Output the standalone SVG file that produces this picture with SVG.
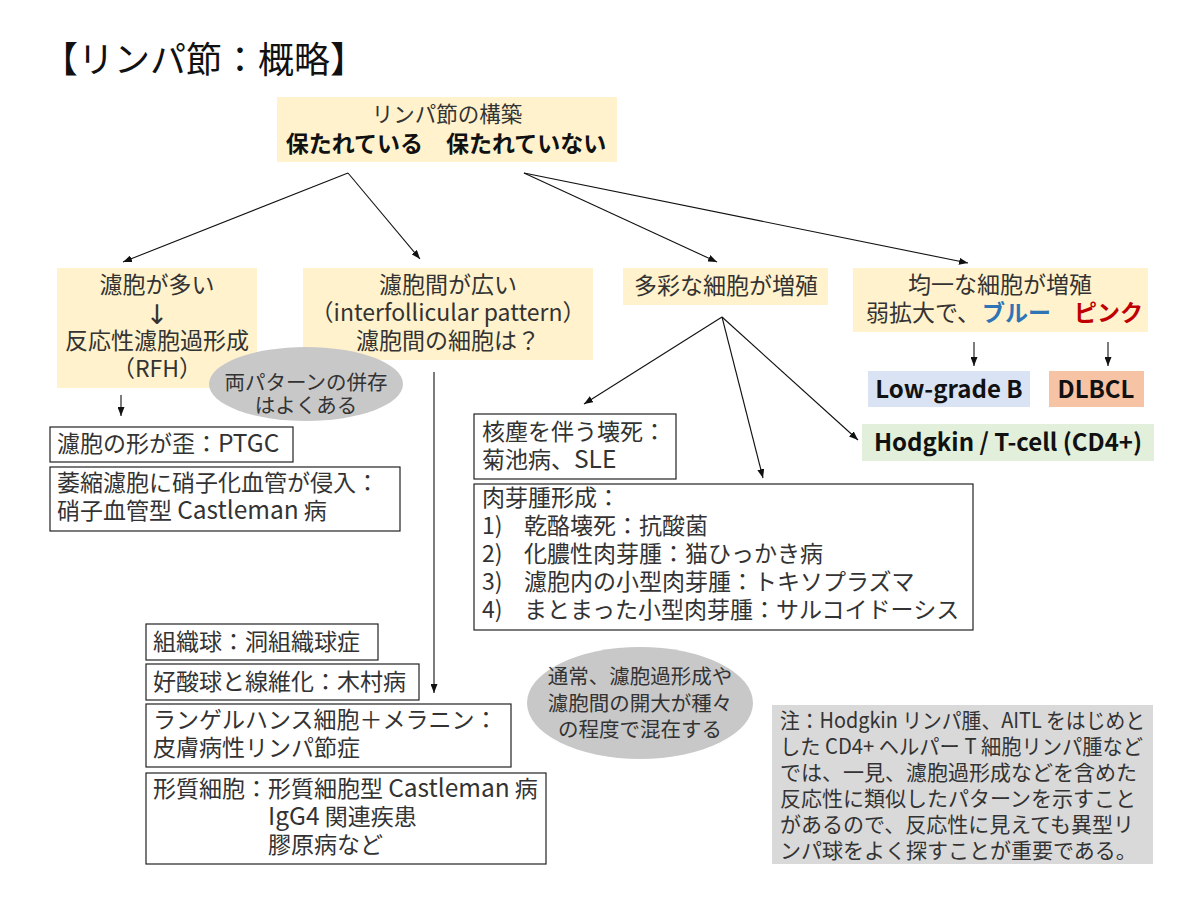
<svg xmlns="http://www.w3.org/2000/svg" width="1200" height="900" viewBox="0 0 1200 900">
<style>
text{font-family:"Noto Sans CJK JP","Noto Sans",sans-serif;fill:#333;}
.t{font-size:23px;}
.c{text-anchor:middle;}
.b{font-weight:bold;}
.k{fill:#111;}
.pale{fill:#fff2cc;}
.wb{fill:#fff;stroke:#222;stroke-width:1.2;}
.ell{fill:#c8c8c8;}
.note{font-size:21px;}
.con line{stroke:#111;stroke-width:1.1;marker-end:url(#ah);}
</style>
<defs>
<marker id="ah" markerWidth="9" markerHeight="7" refX="9" refY="3.5" orient="auto" markerUnits="userSpaceOnUse">
<path d="M0,0 L9,3.5 L0,7 z" fill="#111"/>
</marker>
</defs>
<rect width="1200" height="900" fill="#fff"/>
<text x="42" y="73" class="k" style="font-size:36px">【リンパ節：概略】</text>

<g id="root">
<rect class="pale" x="277" y="97" width="340" height="65"/>
<text class="c" x="447" y="122" style="font-size:21.5px">リンパ節の構築</text>
<text class="c b k" x="446" y="152" style="font-size:23px">保たれている　保たれていない</text>
</g>

<g id="follicles-many">
<rect class="pale" x="57" y="268" width="200" height="120"/>
<text class="t c" x="157" y="293">濾胞が多い</text>
<text class="c" x="157" y="324" style="font-family:'DejaVu Sans',sans-serif;font-size:27px">↓</text>
<text class="t c" x="157" y="349">反応性濾胞過形成</text>
<text class="t c" x="157" y="377">（RFH）</text>
</g>

<g id="interfollicular">
<rect class="pale" x="303" y="268" width="290" height="92"/>
<text class="t c" x="448" y="293">濾胞間が広い</text>
<text class="t c" x="448" y="321">（interfollicular pattern）</text>
<text class="t c" x="448" y="349">濾胞間の細胞は？</text>
</g>

<g id="polymorphous">
<rect class="pale" x="623" y="268" width="205" height="37"/>
<text class="t c" x="726" y="294">多彩な細胞が増殖</text>
</g>

<g id="monomorphous">
<rect class="pale" x="853" y="268" width="295" height="64"/>
<text class="t c" x="1000" y="293">均一な細胞が増殖</text>
<text class="t" x="866" y="321">弱拡大で、<tspan class="b" x="982" style="fill:#2e75b6">ブルー</tspan><tspan class="b" x="1074" style="fill:#c00000">ピンク</tspan></text>
</g>

<g id="both-patterns">
<ellipse class="ell" cx="306" cy="384" rx="97" ry="37"/>
<text class="c" x="306" y="390" style="font-size:20.5px">両パターンの併存</text>
<text class="c" x="306" y="413" style="font-size:20.5px">はよくある</text>
</g>

<g id="ptgc">
<rect class="wb" x="50" y="427" width="243" height="35"/>
<text class="t" x="57" y="452">濾胞の形が歪：<tspan style="font-size:24.5px">PTGC</tspan></text>
</g>

<g id="castleman-hv">
<rect class="wb" x="50" y="467" width="350" height="64"/>
<text class="t" x="57" y="491">萎縮濾胞に硝子化血管が侵入：</text>
<text class="t" x="57" y="519">硝子血管型 <tspan style="font-size:24.5px">Castleman</tspan> 病</text>
</g>

<g id="kikuchi">
<rect class="wb" x="474" y="414" width="202" height="65"/>
<text class="t" x="482" y="440">核塵を伴う壊死：</text>
<text class="t" x="482" y="468">菊池病、<tspan style="font-size:24.5px">SLE</tspan></text>
</g>

<g id="granuloma">
<rect class="wb" x="474" y="484" width="499" height="146"/>
<text class="t" x="482" y="506">肉芽腫形成：</text>
<text class="t" x="482" y="534">1)<tspan x="524">乾酪壊死：抗酸菌</tspan></text>
<text class="t" x="482" y="562">2)<tspan x="524">化膿性肉芽腫：猫ひっかき病</tspan></text>
<text class="t" x="482" y="590">3)<tspan x="524">濾胞内の小型肉芽腫：トキソプラズマ</tspan></text>
<text class="t" x="482" y="618">4)<tspan x="524">まとまった小型肉芽腫：サルコイドーシス</tspan></text>
</g>

<g id="low-grade-b">
<rect x="868" y="371" width="162" height="36" fill="#dae3f3"/>
<text class="c b k" x="949" y="398" style="font-size:24px">Low-grade B</text>
</g>

<g id="dlbcl">
<rect x="1049" y="371" width="95" height="36" fill="#f6c3a4"/>
<text class="c b k" x="1096" y="398" style="font-size:24px">DLBCL</text>
</g>

<g id="hodgkin">
<rect x="862" y="424" width="292" height="37" fill="#e2efda"/>
<text class="c b k" x="1008" y="451" style="font-size:24px">Hodgkin / T-cell (CD4+)</text>
</g>

<g id="histiocyte">
<rect class="wb" x="146" y="624" width="232" height="36"/>
<text class="t" x="153" y="650">組織球：洞組織球症</text>
</g>

<g id="kimura">
<rect class="wb" x="146" y="664" width="273" height="36"/>
<text class="t" x="153" y="690">好酸球と線維化：木村病</text>
</g>

<g id="dermatopathic">
<rect class="wb" x="146" y="704" width="365" height="63"/>
<text class="t" x="153" y="728">ランゲルハンス細胞＋メラニン：</text>
<text class="t" x="153" y="756">皮膚病性リンパ節症</text>
</g>

<g id="plasma">
<rect class="wb" x="146" y="773" width="400" height="91"/>
<text class="t" x="153" y="797">形質細胞：形質細胞型 <tspan style="font-size:24.5px">Castleman</tspan> 病</text>
<text class="t" x="268" y="825"><tspan style="font-size:24.5px">IgG4</tspan> 関連疾患</text>
<text class="t" x="268" y="853">膠原病など</text>
</g>

<g id="mixed-note">
<ellipse class="ell" cx="640" cy="703" rx="113" ry="56"/>
<text class="c" x="640" y="684" style="font-size:20.5px">通常、濾胞過形成や</text>
<text class="c" x="640" y="711" style="font-size:20.5px">濾胞間の開大が種々</text>
<text class="c" x="640" y="737" style="font-size:20.5px">の程度で混在する</text>
</g>

<g id="caution-note">
<rect x="772" y="705" width="381" height="159" fill="#d9d9d9"/>
<text class="note" x="780" y="728" textLength="365" lengthAdjust="spacingAndGlyphs">注：Hodgkin リンパ腫、AITL をはじめと</text>
<text class="note" x="780" y="754" textLength="363" lengthAdjust="spacingAndGlyphs">した CD4+ ヘルパー T 細胞リンパ腫など</text>
<text class="note" x="780" y="780">では、一見、濾胞過形成などを含めた</text>
<text class="note" x="780" y="806">反応性に類似したパターンを示すこと</text>
<text class="note" x="780" y="832">があるので、反応性に見えても異型リ</text>
<text class="note" x="780" y="858">ンパ球をよく探すことが重要である。</text>
</g>

<g id="connectors" class="con">
<line x1="348" y1="173" x2="123" y2="262"/>
<line x1="348" y1="173" x2="420" y2="259"/>
<line x1="524" y1="173" x2="717" y2="262"/>
<line x1="524" y1="173" x2="968" y2="263"/>
<line x1="121" y1="395" x2="121" y2="416"/>
<line x1="434" y1="372" x2="434" y2="693"/>
<line x1="722" y1="317" x2="584" y2="404"/>
<line x1="722" y1="317" x2="763" y2="478"/>
<line x1="722" y1="317" x2="858" y2="440"/>
<line x1="974" y1="342" x2="974" y2="366"/>
<line x1="1108" y1="342" x2="1108" y2="366"/>
</g>
</svg>
